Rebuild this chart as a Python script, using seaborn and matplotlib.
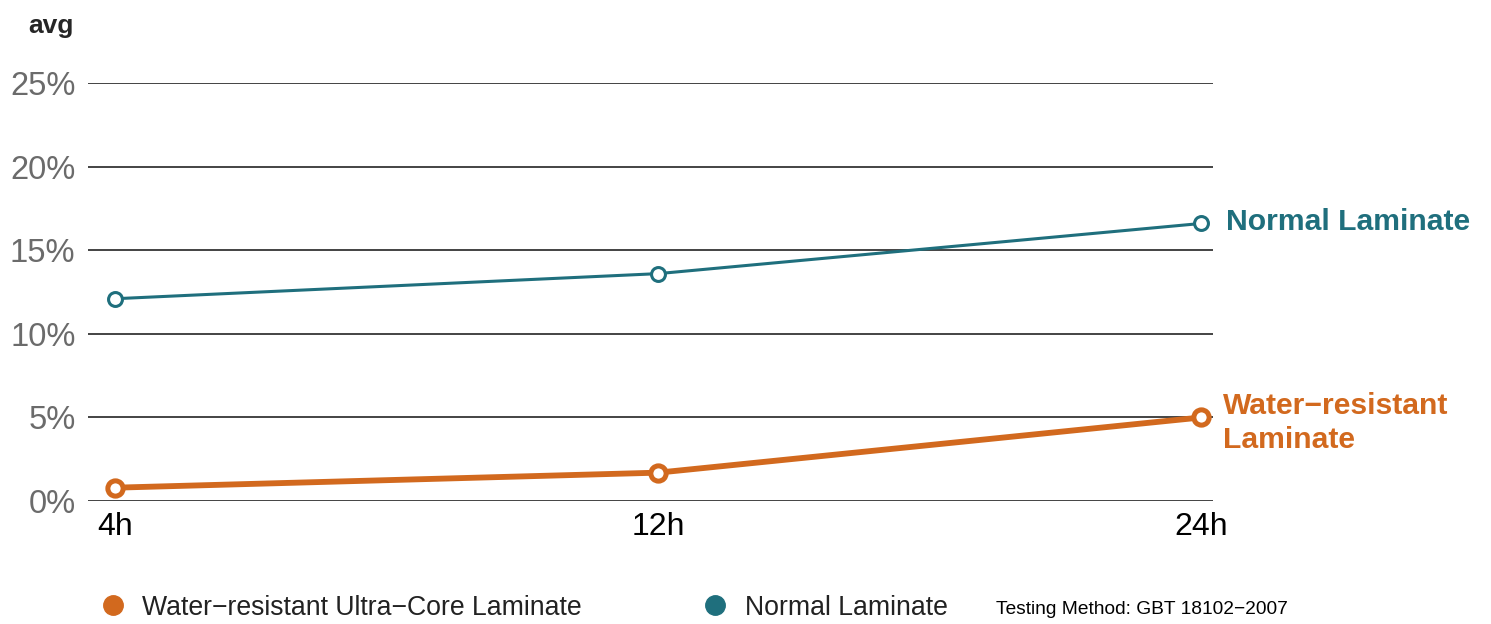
import pandas as pd
import numpy as np
import matplotlib
matplotlib.use("Agg")
import matplotlib.pyplot as plt
from matplotlib.lines import Line2D
import seaborn as sns

# data
hours = ["4h", "12h", "24h"]
water_resistant = [0.8, 1.7, 5.0]
normal = [12.1, 13.6, 16.6]
series_names = ["Water\u2212resistant Ultra\u2212Core Laminate", "Normal Laminate"]
end_labels = ["Water\u2212resistant\nLaminate", "Normal Laminate"]
y_ticks = [0, 5, 10, 15, 20, 25]

orange = "#D2691E"
teal = "#1F6F7D"

df_wr = pd.DataFrame({"time": hours, "avg": water_resistant})
df_n = pd.DataFrame({"time": hours, "avg": normal})

sns.set_style("white")
plt.rcParams["font.family"] = ["Liberation Sans", "DejaVu Sans"]

fig = plt.figure(figsize=(14.91, 6.24), dpi=100)
ax = fig.add_axes([0.059, 0.197, 0.7546, 0.67])

# horizontal grid lines
for t in y_ticks:
    ax.axhline(t, color="#111111", lw=1.1, zorder=1)

sns.lineplot(data=df_n, x="time", y="avg", ax=ax, color=teal, lw=2.2,
             marker="o", markersize=10, markerfacecolor="white",
             markeredgecolor=teal, markeredgewidth=2.2, zorder=3)
sns.lineplot(data=df_wr, x="time", y="avg", ax=ax, color=orange, lw=4.2,
             marker="o", markersize=11, markerfacecolor="white",
             markeredgecolor=orange, markeredgewidth=3.6, zorder=4)

ax.set_xlim(-0.05, 2.022)
ax.set_ylim(0, 25)
ax.set_yticks(y_ticks)
ax.set_yticklabels([f"{t}%" for t in y_ticks], color="#6b6b6b", fontsize=23.5)
ax.tick_params(axis="x", length=0, pad=8, labelsize=23, labelcolor="black")
ax.tick_params(axis="y", length=0, pad=9)
ax.set_xlabel("")
ax.set_ylabel("")
for s in ax.spines.values():
    s.set_visible(False)

# end-of-line labels
ax.annotate(end_labels[1], xy=(2, normal[-1]), xytext=(18, 1),
            textcoords="offset points", va="center", ha="left",
            color=teal, fontsize=21.7, fontweight="bold", annotation_clip=False)
ax.annotate(end_labels[0], xy=(2, water_resistant[-1]), xytext=(16, -4),
            textcoords="offset points", va="center", ha="left",
            color=orange, fontsize=21.7, fontweight="bold", linespacing=1.3,
            annotation_clip=False)

fig.text(0.019, 0.958, "avg", fontsize=19, fontweight="bold", ha="left", va="center")

# legend at the bottom
handles = [Line2D([], [], ls="none", marker="o", markersize=14, color=orange),
           Line2D([], [], ls="none", marker="o", markersize=14, color=teal)]
fig.legend(handles, series_names, loc="center left", bbox_to_anchor=(0.058, 0.026),
           ncol=2, frameon=False, fontsize=19.2, handlelength=0.8,
           handletextpad=0.7, columnspacing=4.6, labelcolor="#222222",
           borderpad=0.1)
fig.text(0.668, 0.024, "Testing Method: GBT 18102\u22122007", fontsize=13.8,
         ha="left", va="center", color="black")

fig.savefig("out.png", dpi=100)
